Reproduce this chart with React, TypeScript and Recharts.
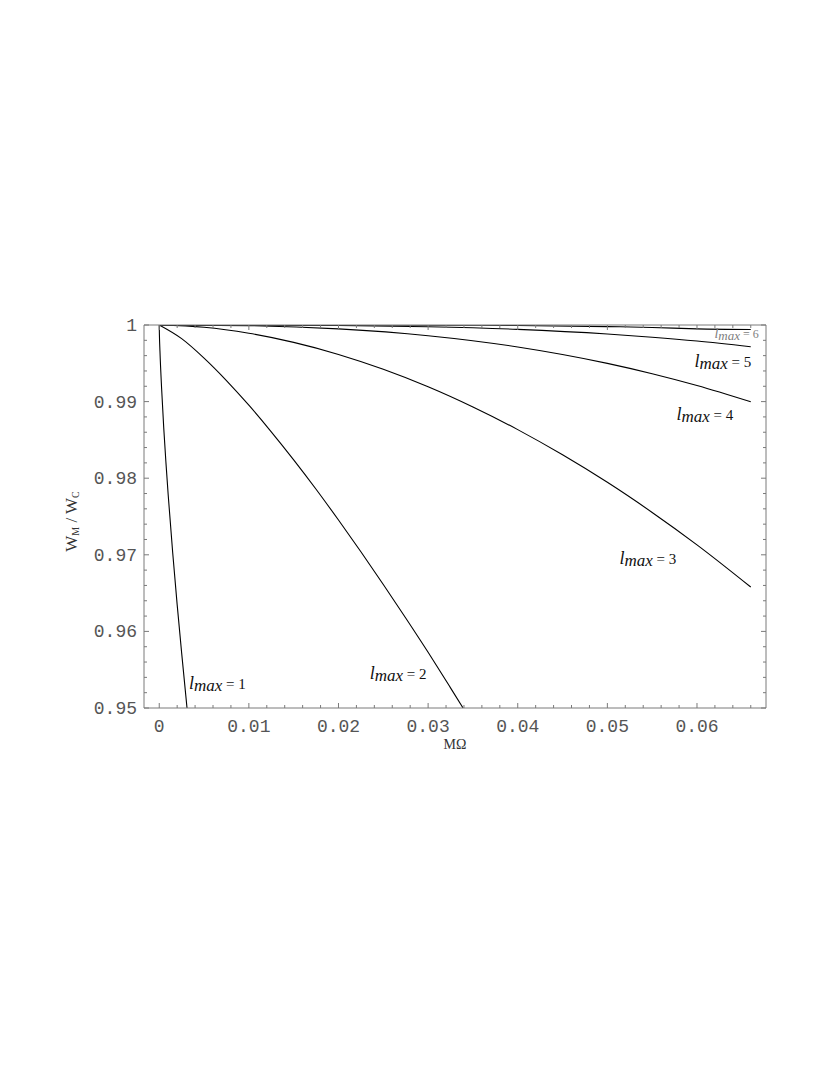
import { LineChart, Line, XAxis, YAxis, ReferenceDot } from 'recharts';

/* ---- readings from the figure: W_M / W_C against MΩ ---- */

const L1_X = [0, 0.00002, 0.00008, 0.00027, 0.0005, 0.00075, 0.001, 0.0015, 0.002, 0.0025, 0.0031];
const L1_W = [1, 0.9987, 0.9966, 0.9916, 0.9866, 0.982, 0.9778, 0.9703, 0.9635, 0.9572, 0.95];

const L2_X = [0, 0.0025, 0.005, 0.0075, 0.01, 0.0125, 0.015, 0.0175, 0.02, 0.0225, 0.025, 0.0275, 0.03, 0.0325, 0.0339];
const L2_W = [1, 0.99822, 0.99568, 0.99275, 0.98953, 0.98606, 0.9824, 0.97856, 0.97454, 0.9704, 0.96613, 0.96175, 0.95727, 0.95263, 0.95];

const L3_X = [0, 0.005, 0.01, 0.015, 0.02, 0.025, 0.03, 0.035, 0.04, 0.045, 0.05, 0.055, 0.06, 0.066];
const L3_W = [1, 0.9997, 0.99892, 0.99773, 0.99616, 0.99422, 0.99194, 0.9893, 0.98634, 0.98305, 0.97946, 0.97553, 0.9713, 0.96579];

const L4_X = [0, 0.01, 0.02, 0.03, 0.04, 0.05, 0.055, 0.06, 0.066];
const L4_W = [1, 0.99991, 0.99949, 0.9986, 0.99713, 0.99499, 0.99364, 0.9921, 0.98997];

const L5_X = [0, 0.01, 0.02, 0.03, 0.04, 0.05, 0.055, 0.06, 0.066];
const L5_W = [1, 0.99999, 0.99994, 0.99977, 0.99943, 0.99883, 0.99841, 0.99791, 0.99716];

const L6_X = [0, 0.02, 0.03, 0.04, 0.05, 0.055, 0.06, 0.066];
const L6_W = [1, 1, 0.99998, 0.99993, 0.99979, 0.99968, 0.9995, 0.99942];

const CURVE_NAMES = ['1', '2', '3', '4', '5', '6'];
// where each "l_max = n" label sits (data coords of the text's left baseline)
const LABEL_X = [0.00331, 0.02349, 0.05135, 0.05771, 0.05972, 0.06195];
const LABEL_W = [0.95242, 0.95373, 0.96876, 0.98758, 0.99451, 0.9983];

const X_TICKS = Array.from({ length: 34 }, (_, i) => Number((i * 0.002).toFixed(3)));
const Y_TICKS = Array.from({ length: 26 }, (_, i) => Number((0.95 + i * 0.002).toFixed(3)));

const toRows = (xs: number[], ws: number[]) => xs.map((x, i) => ({ x, w: ws[i] }));
const SERIES = [
  toRows(L1_X, L1_W),
  toRows(L2_X, L2_W),
  toRows(L3_X, L3_W),
  toRows(L4_X, L4_W),
  toRows(L5_X, L5_W),
  toRows(L6_X, L6_W),
];

const FRAME = '#7a7a7a';
const TICK_TEXT = '#555';
const MONO = '"Liberation Mono", "DejaVu Sans Mono", monospace';
const SERIF = '"Liberation Serif", "DejaVu Serif", serif';

const isMajor = (v: number) => Math.abs(v / 0.01 - Math.round(v / 0.01)) < 1e-6;

function makeTick(side: 'left' | 'right' | 'top' | 'bottom') {
  return (props: any) => {
    const { x, y, payload } = props;
    const v = payload.value;
    const major = isMajor(v);
    const len = major ? 5 : 3;
    if (side === 'left') {
      return (
        <g>
          <line x1={x} y1={y} x2={x + len} y2={y} stroke={FRAME} strokeWidth={1} />
          {major && (
            <text x={x - 7} y={y + 6} textAnchor="end" fontFamily={MONO} fontSize={18} fill={TICK_TEXT}>
              {v === 1 ? '1' : v.toFixed(2)}
            </text>
          )}
        </g>
      );
    }
    if (side === 'right') {
      return <line x1={x} y1={y} x2={x - len} y2={y} stroke={FRAME} strokeWidth={1} />;
    }
    if (side === 'top') {
      return <line x1={x} y1={y} x2={x} y2={y + len} stroke={FRAME} strokeWidth={1} />;
    }
    return (
      <g>
        <line x1={x} y1={y} x2={x} y2={y - len} stroke={FRAME} strokeWidth={1} />
        {major && (
          <text x={x} y={y + 24} textAnchor="middle" fontFamily={MONO} fontSize={18} fill={TICK_TEXT}>
            {v === 0 ? '0' : v.toFixed(2)}
          </text>
        )}
      </g>
    );
  };
}

function CurveLabel({ cx, cy, name }: any) {
  const small = name === '6';
  return (
    <text
      x={cx}
      y={cy}
      fontFamily={SERIF}
      fill={small ? '#808080' : '#111'}
      style={{ whiteSpace: 'pre' }}
    >
      <tspan fontStyle="italic" fontSize={small ? 14 : 18}>l</tspan>
      <tspan fontStyle="italic" fontSize={small ? 13 : 17} dy={2}>max</tspan>
      <tspan fontSize={small ? 12 : 15} dy={-2}>{' = ' + name}</tspan>
    </text>
  );
}

function YTitle({ viewBox }: any) {
  const cx = viewBox.x + 23;
  const cy = viewBox.y + viewBox.height / 2 + 5;
  return (
    <text
      x={cx}
      y={cy}
      transform={`rotate(-90, ${cx}, ${cy})`}
      textAnchor="middle"
      fontFamily={SERIF}
      fontSize={17}
      fill="#333"
      style={{ whiteSpace: 'pre' }}
    >
      <tspan>W</tspan>
      <tspan fontSize={10} dy={2}>M</tspan>
      <tspan dy={-2}>{' / W'}</tspan>
      <tspan fontSize={10} dy={2}>C</tspan>
    </text>
  );
}

function XTitle({ viewBox }: any) {
  return (
    <text
      x={viewBox.x + viewBox.width / 2}
      y={viewBox.y + 41}
      textAnchor="middle"
      fontFamily={SERIF}
      fontSize={14}
      fill="#333"
    >
      MΩ
    </text>
  );
}

export default function App() {
  return (
    <div style={{ width: 814, height: 780 }}>
      <LineChart width={814} height={780} margin={{ top: 316, right: 55, bottom: 40, left: 46 }}>
        <XAxis
          dataKey="x"
          type="number"
          domain={[-0.0017, 0.0677]}
          allowDataOverflow
          ticks={X_TICKS}
          interval={0}
          height={40}
          tickSize={0}
          tickMargin={0}
          tickLine={false}
          axisLine={{ stroke: FRAME }}
          tick={makeTick('bottom')}
          label={{ content: (p: any) => <XTitle {...p} /> }}
        />
        <XAxis
          xAxisId="top"
          orientation="top"
          dataKey="x"
          type="number"
          domain={[-0.0017, 0.0677]}
          allowDataOverflow
          ticks={X_TICKS}
          interval={0}
          height={1}
          tickSize={0}
          tickMargin={0}
          tickLine={false}
          axisLine={{ stroke: FRAME }}
          tick={makeTick('top')}
        />
        <YAxis
          type="number"
          domain={[0.95, 1]}
          allowDataOverflow
          ticks={Y_TICKS}
          interval={0}
          width={90}
          tickSize={0}
          tickMargin={0}
          tickLine={false}
          axisLine={{ stroke: FRAME }}
          tick={makeTick('left')}
          label={{ content: (p: any) => <YTitle {...p} /> }}
        />
        <YAxis
          yAxisId="right"
          orientation="right"
          type="number"
          domain={[0.95, 1]}
          allowDataOverflow
          ticks={Y_TICKS}
          interval={0}
          width={1}
          tickSize={0}
          tickMargin={0}
          tickLine={false}
          axisLine={{ stroke: FRAME }}
          tick={makeTick('right')}
        />
        {SERIES.map((rows, i) => (
          <Line
            key={CURVE_NAMES[i]}
            data={rows}
            dataKey="w"
            type="monotone"
            stroke="#000"
            strokeWidth={1.1}
            dot={false}
            activeDot={false}
            isAnimationActive={false}
          />
        ))}
        {CURVE_NAMES.map((name, i) => (
          <ReferenceDot
            key={'lab' + name}
            x={LABEL_X[i]}
            y={LABEL_W[i]}
            r={0}
            ifOverflow="visible"
            shape={(p: any) => <CurveLabel cx={p.cx} cy={p.cy} name={name} />}
          />
        ))}
      </LineChart>
    </div>
  );
}
